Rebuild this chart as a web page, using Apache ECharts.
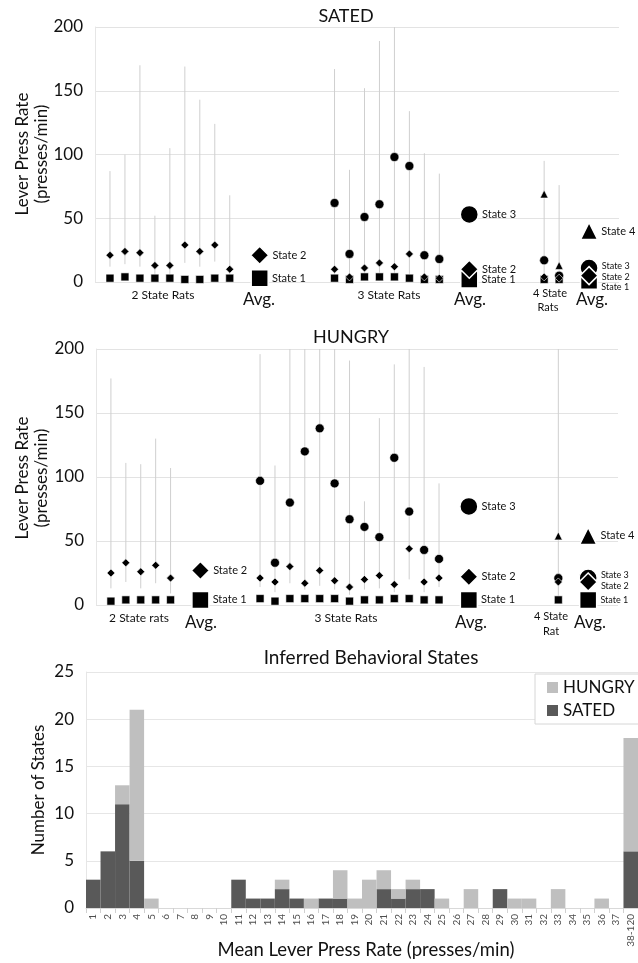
<!DOCTYPE html>
<html>
<head>
<meta charset="utf-8">
<script src="https://cdn.jsdelivr.net/npm/echarts@6/dist/echarts.min.js"></script>
<style>
  html, body { margin: 0; padding: 0; background: #fff; }
  #main { width: 638px; height: 963px; }
</style>
</head>
<body>
<div id="main"></div>
<script>
// ---------- SATED: mean press rate of each inferred state, per rat ----------
const satedTwoS1 = [3, 4, 3, 3, 3, 2, 2, 3, 3];
const satedTwoS2 = [21, 24, 23, 13, 13, 29, 24, 29, 10];
const satedTwoHi = [87, 100, 170, 52, 105, 169, 143, 124, 68];
const satedTwoLo = [12, 14, 12, 4, 4, 15, 12, 16, 4];

const satedThreeS1 = [3, 2, 4, 4, 4, 3, 2, 2];
const satedThreeS2 = [10, 4, 11, 15, 12, 22, 4, 3];
const satedThreeS3 = [62, 22, 51, 61, 98, 91, 21, 18];
const satedThreeHi = [167, 88, 152, 189, 200, 134, 101, 85];
const satedThreeLo = [5, 4, 6, 6, 6, 6, 4, 4];

const satedFourS1 = [2, 2];
const satedFourS2 = [4, 3];
const satedFourS3 = [17, 5];
const satedFourS4 = [69, 13];
const satedFourHi = [95, 76];
const satedFourLo = [4, 4];

// group averages: [2-state, 3-state, 4-state]
const satedAvgS1 = [3, 2, 1];
const satedAvgS2 = [21, 10, 5];
const satedAvgS3 = [53, 11];      // 3-state, 4-state
const satedAvgS4 = [40];          // 4-state

// ---------- HUNGRY ----------
const hungryTwoS1 = [3, 4, 4, 4, 4];
const hungryTwoS2 = [25, 33, 26, 31, 21];
const hungryTwoHi = [177, 111, 110, 130, 107];
const hungryTwoLo = [13, 18, 13, 17, 9];

const hungryThreeS1 = [5, 3, 5, 5, 5, 5, 3, 4, 4, 5, 5, 4, 4];
const hungryThreeS2 = [21, 18, 30, 17, 27, 19, 14, 20, 23, 16, 44, 18, 21];
const hungryThreeS3 = [97, 33, 80, 120, 138, 95, 67, 61, 53, 115, 73, 43, 36];
const hungryThreeHi = [196, 109, 200, 200, 200, 200, 191, 81, 146, 188, 200, 186, 95];
const hungryThreeLo = [14, 10, 17, 12, 15, 12, 8, 12, 13, 10, 20, 10, 14];

const hungryFourS1 = [4];
const hungryFourS2 = [18];
const hungryFourS3 = [21];
const hungryFourS4 = [54];
const hungryFourHi = [200];
const hungryFourLo = [3];

const hungryAvgS1 = [4, 4, 4];
const hungryAvgS2 = [27, 22, 18];
const hungryAvgS3 = [77, 21];
const hungryAvgS4 = [54];

// ---------- Histogram of inferred states ----------
const rateBins = ['1','2','3','4','5','6','7','8','9','10','11','12','13','14','15','16','17','18','19',
  '20','21','22','23','24','25','26','27','28','29','30','31','32','33','34','35','36','37','38-120'];
const satedCounts  = [3, 6, 11, 5, 0, 0, 0, 0, 0, 0, 3, 1, 1, 2, 1, 0, 1, 1, 0,
  0, 2, 1, 2, 2, 0, 0, 0, 0, 2, 0, 0, 0, 0, 0, 0, 0, 0, 6];
const hungryCounts = [0, 0, 2, 16, 1, 0, 0, 0, 0, 0, 0, 0, 0, 1, 0, 1, 0, 3, 1,
  3, 2, 1, 1, 0, 1, 0, 2, 0, 0, 1, 1, 0, 2, 0, 0, 1, 0, 12];

// slot of the first rat in each group along the hidden x scale
const SATED_SLOTS  = { two: 1, twoAvg: 11, three: 16, threeAvg: 25, four: 30, fourAvg: 33 };
const HUNGRY_SLOTS = { two: 1, twoAvg: 7,  three: 11, threeAvg: 25, four: 31, fourAvg: 33 };

const FONT = 'Lato, "Open Sans", sans-serif';
const INK = '#111';
const BAR_GREY = '#cfcfcf';

const pts = (start, vals) => vals.map((v, i) => [start + i, v]);
const bars = (start, lo, hi) => lo.map((l, i) => [start + i, l, hi[i]]);

function errorSeries(idx, data) {
  return {
    type: 'custom', xAxisIndex: idx, yAxisIndex: idx, z: 1, silent: true,
    renderItem: (params, api) => {
      const a = api.coord([api.value(0), api.value(1)]);
      const b = api.coord([api.value(0), api.value(2)]);
      return { type: 'line', shape: { x1: a[0], y1: a[1], x2: b[0], y2: b[1] },
               style: { stroke: BAR_GREY, lineWidth: 1 } };
    },
    encode: { x: 0, y: [1, 2] },
    data
  };
}

const SYM = { 1: 'rect', 2: 'diamond', 3: 'circle', 4: 'triangle' };
const SMALL = { 1: 8, 2: 8, 3: 9, 4: 8 };
const BIG = { 1: 17, 2: 18, 3: 18, 4: 17 };
const ZORD = { 1: 3, 2: 5, 3: 4, 4: 6 };

function ratSeries(idx, state, data) {
  return {
    type: 'scatter', xAxisIndex: idx, yAxisIndex: idx, name: 'rat' + state,
    symbol: SYM[state], symbolSize: SMALL[state], z: ZORD[state],
    itemStyle: { color: '#000', opacity: 1, borderColor: '#fff', borderWidth: 0.6 },
    data
  };
}

function avgSeries(idx, state, data) {
  return {
    type: 'scatter', xAxisIndex: idx, yAxisIndex: idx, name: 'State ' + state,
    symbol: SYM[state], symbolSize: BIG[state], z: ZORD[state] + 4,
    itemStyle: { color: '#000', opacity: 1, borderColor: '#fff', borderWidth: 1.5 },
    label: { show: true, position: 'right', distance: 3, formatter: '{a}',
             fontFamily: FONT, fontSize: 11, color: INK },
    data
  };
}

// smaller, nudged labels for the stacked 4-state averages
const small = (pt, dy) => ({ value: pt, label: { fontSize: 9, offset: [0, dy] } });

function panelSeries(idx, S, d) {
  return [
    errorSeries(idx, [].concat(bars(S.two, d.twoLo, d.twoHi), bars(S.three, d.threeLo, d.threeHi),
                               bars(S.four, d.fourLo, d.fourHi))),
    ratSeries(idx, 1, [].concat(pts(S.two, d.twoS1), pts(S.three, d.threeS1), pts(S.four, d.fourS1))),
    ratSeries(idx, 2, [].concat(pts(S.two, d.twoS2), pts(S.three, d.threeS2), pts(S.four, d.fourS2))),
    ratSeries(idx, 3, [].concat(pts(S.three, d.threeS3), pts(S.four, d.fourS3))),
    ratSeries(idx, 4, pts(S.four, d.fourS4)),
    avgSeries(idx, 1, [[S.twoAvg, d.avgS1[0]], [S.threeAvg, d.avgS1[1]], small([S.fourAvg, d.avgS1[2]], d.off[2])]),
    avgSeries(idx, 2, [[S.twoAvg, d.avgS2[0]], [S.threeAvg, d.avgS2[1]], small([S.fourAvg, d.avgS2[2]], d.off[1])]),
    avgSeries(idx, 3, [[S.threeAvg, d.avgS3[0]], small([S.fourAvg, d.avgS3[1]], d.off[0])]),
    avgSeries(idx, 4, [[S.fourAvg, d.avgS4[0]]])
  ];
}

const satedData = {
  twoS1: satedTwoS1, twoS2: satedTwoS2, twoHi: satedTwoHi, twoLo: satedTwoLo,
  threeS1: satedThreeS1, threeS2: satedThreeS2, threeS3: satedThreeS3, threeHi: satedThreeHi, threeLo: satedThreeLo,
  fourS1: satedFourS1, fourS2: satedFourS2, fourS3: satedFourS3, fourS4: satedFourS4, fourHi: satedFourHi, fourLo: satedFourLo,
  avgS1: satedAvgS1, avgS2: satedAvgS2, avgS3: satedAvgS3, avgS4: satedAvgS4, off: [-2, 1, 6]
};
const hungryData = {
  twoS1: hungryTwoS1, twoS2: hungryTwoS2, twoHi: hungryTwoHi, twoLo: hungryTwoLo,
  threeS1: hungryThreeS1, threeS2: hungryThreeS2, threeS3: hungryThreeS3, threeHi: hungryThreeHi, threeLo: hungryThreeLo,
  fourS1: hungryFourS1, fourS2: hungryFourS2, fourS3: hungryFourS3, fourS4: hungryFourS4, fourHi: hungryFourHi, fourLo: hungryFourLo,
  avgS1: hungryAvgS1, avgS2: hungryAvgS2, avgS3: hungryAvgS3, avgS4: hungryAvgS4, off: [-3, 4, 0]
};

const rateAxis = (idx) => ({
  type: 'value', gridIndex: idx, min: 0, max: 200, interval: 50,
  axisLine: { show: true, lineStyle: { color: '#e6e6e6' } },
  axisTick: { show: false },
  splitLine: { lineStyle: { color: '#e3e3e3' } },
  axisLabel: { fontFamily: FONT, fontSize: 17, color: INK, margin: 12 }
});
const slotAxis = (idx) => ({
  type: 'value', gridIndex: idx, min: 0, max: 35, show: false
});

function txt(x, y, text, size, extra) {
  return Object.assign({ type: 'text', x, y, silent: true,
    style: { text, fontFamily: FONT, fontSize: size, fill: INK, align: 'center', verticalAlign: 'middle' } }, extra || {});
}
const vtxt = (x, y, text, size) => txt(x, y, text, size, { rotation: Math.PI / 2 });

const chart = echarts.init(document.getElementById('main'), null, { renderer: 'canvas' });

chart.setOption({
  animation: false,
  backgroundColor: '#fff',
  grid: [
    { left: 95, top: 27, width: 524, height: 255 },
    { left: 96, top: 349, width: 522, height: 256 },
    { left: 86, top: 672, width: 561, height: 236 }
  ],
  xAxis: [
    slotAxis(0), slotAxis(1),
    {
      type: 'category', gridIndex: 2, data: rateBins,
      axisLine: { lineStyle: { color: '#d9d9d9' } },
      axisTick: { show: true, lineStyle: { color: '#d0d0d0' }, length: 5 },
      axisLabel: { rotate: 90, fontFamily: FONT, fontSize: 10, color: '#4d4d4d', margin: 6, interval: 0 }
    }
  ],
  yAxis: [
    rateAxis(0), rateAxis(1),
    {
      type: 'value', gridIndex: 2, min: 0, max: 25, interval: 5,
      axisLine: { show: true, lineStyle: { color: '#e6e6e6' } },
      axisTick: { show: false },
      splitLine: { lineStyle: { color: '#e6e6e6' } },
      axisLabel: { fontFamily: FONT, fontSize: 17, color: INK, margin: 12 }
    }
  ],
  legend: {
    data: ['HUNGRY', 'SATED'], orient: 'vertical', left: 535, top: 674,
    icon: 'rect', itemWidth: 11, itemHeight: 11, itemGap: 6,
    padding: [5, 12, 5, 12], borderColor: '#d6d6d6', borderWidth: 1, backgroundColor: '#fff',
    textStyle: { fontFamily: FONT, fontSize: 17, color: INK }
  },
  series: [].concat(
    panelSeries(0, SATED_SLOTS, satedData),
    panelSeries(1, HUNGRY_SLOTS, hungryData),
    [
      { type: 'bar', name: 'SATED', xAxisIndex: 2, yAxisIndex: 2, stack: 'states',
        barCategoryGap: 0, itemStyle: { color: '#595959' }, data: satedCounts },
      { type: 'bar', name: 'HUNGRY', xAxisIndex: 2, yAxisIndex: 2, stack: 'states',
        barCategoryGap: 0, itemStyle: { color: '#bfbfbf' }, data: hungryCounts }
    ]
  ),
  graphic: [
    txt(346, 16, 'SATED', 18),
    txt(351, 337, 'HUNGRY', 18),
    txt(371, 658, 'Inferred Behavioral States', 19),
    vtxt(23, 154, 'Lever Press Rate', 17), vtxt(42, 154, '(presses/min)', 17),
    vtxt(23, 478, 'Lever Press Rate', 17), vtxt(42, 478, '(presses/min)', 17),
    vtxt(39, 790, 'Number of States', 17),
    txt(366, 950, 'Mean Lever Press Rate (presses/min)', 18.5),
    // group captions under the SATED panel
    txt(163, 295, '2 State Rats', 12), txt(259, 300, 'Avg.', 17),
    txt(389, 295, '3 State Rats', 12), txt(470, 300, 'Avg.', 17),
    txt(550, 293, '4 State', 11), txt(548, 307, 'Rats', 11), txt(592, 300, 'Avg.', 17),
    // group captions under the HUNGRY panel
    txt(139, 618, '2 State rats', 12), txt(201, 623, 'Avg.', 17),
    txt(346, 618, '3 State Rats', 12), txt(471, 623, 'Avg.', 17),
    txt(551, 616, '4 State', 11), txt(551, 631, 'Rat', 11), txt(590, 623, 'Avg.', 17)
  ]
});
</script>
</body>
</html>
